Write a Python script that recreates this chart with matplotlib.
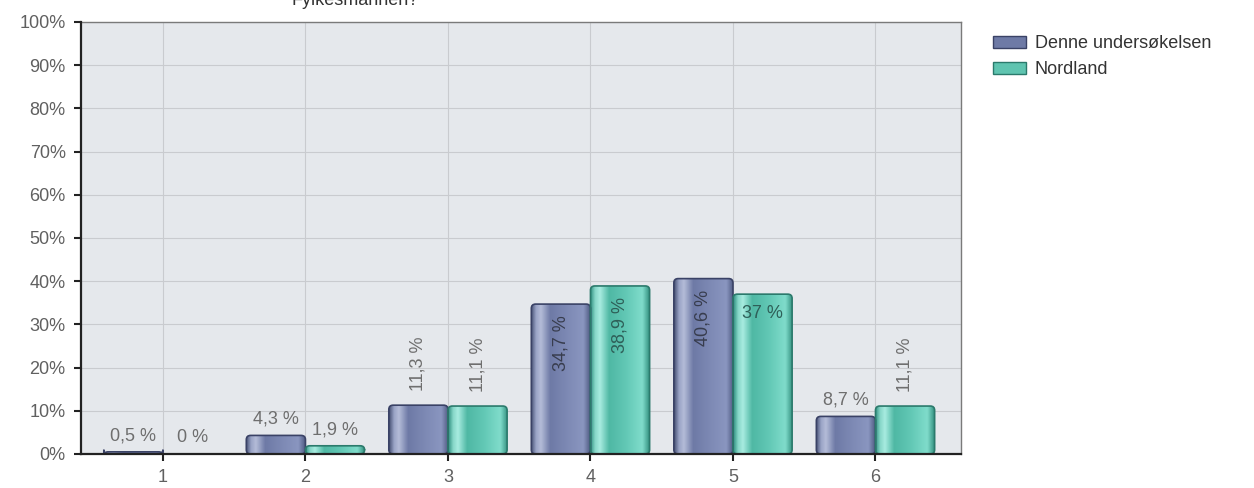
import matplotlib
matplotlib.use("Agg")
import matplotlib.pyplot as plt
import numpy as np
from matplotlib.patches import FancyBboxPatch, Patch
from matplotlib.colors import to_rgb

plt.rcParams["font.family"] = ["Liberation Sans", "DejaVu Sans"]

categories = ["1", "2", "3", "4", "5", "6"]
series_names = ["Denne undersøkelsen", "Nordland"]
survey = [0.5, 4.3, 11.3, 34.7, 40.6, 8.7]
nordland = [0.0, 1.9, 11.1, 38.9, 37.0, 11.1]
survey_labels = ["0,5 %", "4,3 %", "11,3 %", "34,7 %", "40,6 %", "8,7 %"]
nordland_labels = ["0 %", "1,9 %", "11,1 %", "38,9 %", "37 %", "11,1 %"]
# label placement: 'h' horizontal above, 'v' vertical above, 'vi' vertical inside, 'hi' horizontal inside
survey_modes = ["h", "h", "v", "vi", "vi", "h"]
nordland_modes = ["h", "h", "v", "vi", "hi", "v"]
yticks = [0, 10, 20, 30, 40, 50, 60, 70, 80, 90, 100]
title = "Fylkesmannen?"

W, H = 1254, 488
FS = 13
fig = plt.figure(figsize=(W / 100, H / 100), dpi=100)
ax = fig.add_axes([81 / W, 1 - 454 / H, (961 - 81) / W, (454 - 22) / H])
ax.set_facecolor("#e5e8ec")

x = np.arange(1, len(categories) + 1)
bw = 0.415

blue_stops = ["#4a5478", "#9aa4c6", "#b4bcd8", "#6e7aa6", "#7d89b4", "#8a96c0", "#4d5880"]
teal_stops = ["#2f8f80", "#86d6c8", "#a8ece0", "#4fb8a4", "#62c8b5", "#80dccb", "#33907f"]
pos = [0.0, 0.08, 0.16, 0.32, 0.6, 0.88, 1.0]


def grad(stops):
    cols = np.array([to_rgb(c) for c in stops])
    t = np.linspace(0, 1, 64)
    arr = np.stack([np.interp(t, pos, cols[:, k]) for k in range(3)], axis=-1)
    return arr[None, :, :]


def draw_bars(xs, vals, stops, edge):
    g = grad(stops)
    for xi, v in zip(xs, vals):
        if v <= 0:
            continue
        p = FancyBboxPatch((xi, 0), bw, v, boxstyle="round,pad=0,rounding_size=0.03",
                           mutation_aspect=33, facecolor="none", edgecolor=edge,
                           linewidth=1.2, zorder=4)
        ax.add_patch(p)
        im = ax.imshow(g, extent=(xi, xi + bw, 0, v), aspect="auto", zorder=3,
                       interpolation="bilinear")
        clip = FancyBboxPatch((xi, 0), bw, v, boxstyle="round,pad=0,rounding_size=0.03",
                              mutation_aspect=33, transform=ax.transData)
        im.set_clip_path(clip)


draw_bars(x - bw, survey, blue_stops, "#3a4266")
draw_bars(x, nordland, teal_stops, "#2b7a6c")
ax.set_xlim(0.425, 6.6)
ax.set_ylim(0, 100)


def labels(xs, vals, texts, modes, inside_col):
    for xi, v, t, m in zip(xs, vals, texts, modes):
        cx = xi + bw / 2
        if m == "h":
            ax.text(cx, v + 1.8, t, ha="center", va="bottom", fontsize=FS, color="#6e6e6e", zorder=6)
        elif m == "v":
            ax.text(cx, v + 3.2, t, ha="center", va="bottom", rotation=90, fontsize=FS, color="#6e6e6e", zorder=6)
        elif m == "vi":
            ax.text(cx, v - 2.6, t, ha="center", va="top", rotation=90, fontsize=FS, color=inside_col, zorder=6)
        else:
            ax.text(cx, v - 2.6, t, ha="center", va="top", fontsize=FS, color=inside_col, zorder=6)


labels(x - bw, survey, survey_labels, survey_modes, "#383d4e")
labels(x, nordland, nordland_labels, nordland_modes, "#2e5f58")

ax.set_xticks(x)
ax.set_xticklabels(categories)
ax.set_yticks(yticks)
ax.set_yticklabels([f"{v}%" for v in yticks])
ax.grid(True, color="#c9cbcf", linewidth=0.8, zorder=0)
ax.set_axisbelow(True)
ax.tick_params(axis="both", labelsize=FS, labelcolor="#606060", color="#222222",
               length=5, width=1.5, direction="out")
ax.tick_params(axis="y", pad=6)
ax.tick_params(axis="x", pad=6)
for s in ["left", "bottom"]:
    ax.spines[s].set_color("#222222")
    ax.spines[s].set_linewidth(1.6)
    ax.spines[s].set_zorder(7)
for s in ["top", "right"]:
    ax.spines[s].set_color("#7a7a7a")
    ax.spines[s].set_linewidth(1.0)

fig.text(355 / W, 1 - 5 / H, title, ha="center", va="baseline", fontsize=FS, color="#333333")

handles = [Patch(facecolor="#6e7aa6", edgecolor="#3a4266", label=series_names[0]),
           Patch(facecolor="#5fc4b0", edgecolor="#2b7a6c", label=series_names[1])]
fig.legend(handles=handles, loc="upper left", bbox_to_anchor=(993 / W, 1 - 35 / H),
           frameon=False, fontsize=FS, handlelength=1.85, handleheight=0.65,
           handletextpad=0.45, labelspacing=0.5, borderpad=0, borderaxespad=0,
           labelcolor="#333333")

fig.savefig("out.png", dpi=100)
